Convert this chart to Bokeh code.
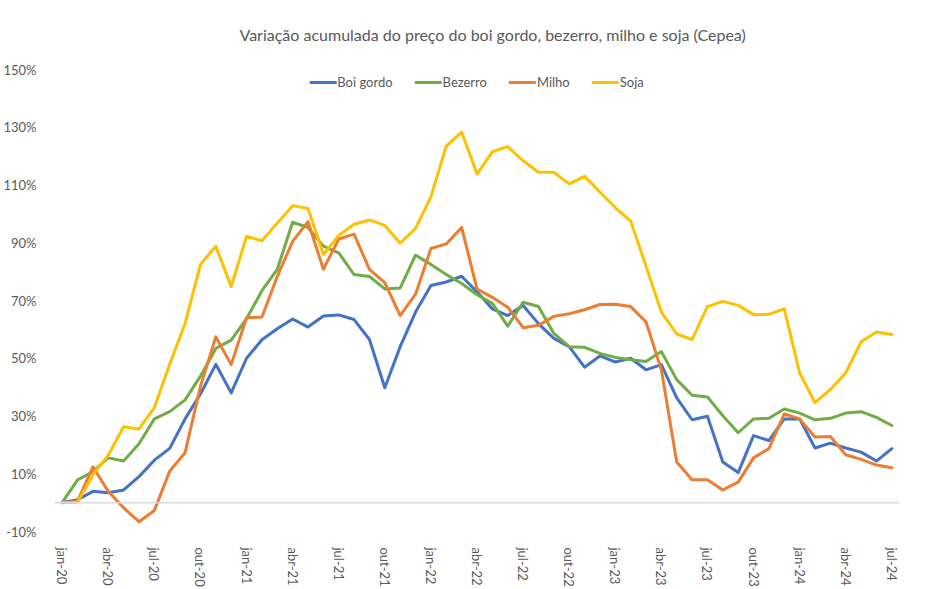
from bokeh.plotting import figure
from bokeh.models import (ColumnDataSource, Range1d, FixedTicker, Span, Legend,
                          LegendItem)
from bokeh.embed import file_html
from bokeh.resources import INLINE

# Months jan-20 .. jul-24
months_pt = ["jan", "fev", "mar", "abr", "mai", "jun",
             "jul", "ago", "set", "out", "nov", "dez"]
month_labels = []
for yr in range(20, 25):
    for m in months_pt:
        month_labels.append(f"{m}-{yr}")
month_labels = month_labels[:55]

# Accumulated price change since jan-20 (%)
boi_gordo = [0, 1, 3.9, 3.4, 4.4, 9, 14.7, 18.8, 29, 37.6,
             47.9, 38, 50, 56.4, 60.2, 63.6, 60.8, 64.6, 65, 63.4,
             56.5, 39.8, 54, 66, 75.2, 76.4, 78.4, 73, 67.1, 64.8,
             68.3, 62, 56.9, 54, 46.9, 50.8, 48.7, 50, 46, 47.8,
             36.3, 28.7, 29.9, 14.1, 10.4, 23.2, 21.5, 29, 29, 18.9,
             20.6, 18.9, 17.5, 14.4, 18.7]
bezerro = [0, 7.9, 10.7, 15.5, 14.4, 20.4, 29, 31.5, 35.6, 43.8,
           53.4, 56.3, 63.7, 73.4, 80.8, 97.1, 95.3, 88.8, 86.5, 79,
           78.3, 74, 74.3, 85.7, 82.5, 79, 75.9, 72, 69, 61.1,
           69.4, 67.9, 58.6, 54, 53.8, 51.7, 50.3, 49.5, 48.9, 52.3,
           42.6, 37.2, 36.6, 30.1, 24.2, 29, 29.2, 32.4, 31, 28.7,
           29.2, 31, 31.5, 29.5, 26.7]
milho = [0, 0.5, 12.4, 3.9, -1.8, -6.6, -2.7, 10.9, 17.3, 40.3,
         57.4, 47.8, 64, 64.3, 78.3, 90.5, 97.3, 80.8, 91.3, 93,
         80.8, 76.2, 64.8, 72.2, 88, 89.6, 95.3, 74, 71.1, 67.7,
         60.6, 61.4, 64.5, 65.4, 66.8, 68.6, 68.7, 67.9, 62.6, 46,
         14.1, 7.9, 7.9, 4.4, 7.1, 15.5, 18.7, 30.7, 29, 22.7,
         22.9, 16.6, 15, 13, 12.1]
soja = [0, 0.1, 9.6, 16.4, 26.3, 25.5, 32.9, 48, 62, 82.5,
        88.8, 74.8, 92.2, 90.7, 96.8, 102.8, 101.9, 85.9, 92.5, 96.4,
        97.9, 96, 89.9, 95, 105.9, 123.5, 128.3, 113.8, 121.5, 123.3,
        118.4, 114.4, 114.4, 110.4, 113, 107.6, 102.2, 97.5, 81.9, 66,
        58.4, 56.5, 67.9, 69.7, 68.3, 65.1, 65.2, 67.1, 44.9, 34.6,
        39.2, 44.9, 55.7, 59.1, 58.2]

y_ticks = [-10, 10, 30, 50, 70, 90, 110, 130, 150]

series = [("Boi gordo", boi_gordo, "#4472C4"),
          ("Bezerro", bezerro, "#70AD47"),
          ("Milho", milho, "#ED7D31"),
          ("Soja", soja, "#FFC000")]

FONT = "Lato"
GRAY = "#595959"

idx = list(range(len(month_labels)))

p = figure(width=948, height=589, output_backend="svg", toolbar_location=None,
           x_range=Range1d(-0.5, len(idx) - 0.5), y_range=Range1d(-10, 150),
           min_border_left=50, min_border_right=49, min_border_top=69,
           min_border_bottom=52)

p.title.text = "Variação acumulada do preço do boi gordo, bezerro, milho e soja (Cepea)"
p.title.align = "left"
p.title.offset = 185
p.title.text_font = FONT
p.title.text_font_size = "16px"
p.title.text_font_style = "normal"
p.title.text_color = GRAY
p.title.vertical_align = "top"
p.title.standoff = 47

p.outline_line_color = None
p.xgrid.visible = False
p.ygrid.visible = False
p.background_fill_color = "white"
p.border_fill_color = "white"

# zero baseline
p.add_layout(Span(location=0, dimension="width", line_color="#D9D9D9",
                  line_width=1.5))

items = []
for name, vals, color in series:
    src = ColumnDataSource(dict(x=idx, y=vals))
    r = p.line("x", "y", source=src, line_color=color, line_width=3,
               line_join="round", line_cap="round")
    items.append(LegendItem(label=name, renderers=[r]))

legend = Legend(items=items, location="top_center", orientation="horizontal",
                border_line_color=None, background_fill_alpha=0,
                label_text_font=FONT, label_text_font_size="13px",
                label_text_color=GRAY, glyph_width=27, glyph_height=16,
                label_standoff=1, spacing=22, padding=0, margin=5)
p.add_layout(legend)

# x axis: every third month, rotated labels
p.xaxis.ticker = FixedTicker(ticks=list(range(0, len(idx), 3)))
p.xaxis.major_label_overrides = {i: month_labels[i] for i in range(0, len(idx), 3)}
p.xaxis.major_label_orientation = "vertical"
p.xaxis.axis_line_color = None
p.xaxis.major_tick_line_color = None
p.xaxis.minor_tick_line_color = None
p.xaxis.major_label_text_font = FONT
p.xaxis.major_label_text_font_size = "13px"
p.xaxis.major_label_text_color = GRAY
p.xaxis.major_label_standoff = 10

# y axis in percent
p.yaxis.ticker = FixedTicker(ticks=y_ticks)
p.yaxis.major_label_overrides = {v: f"{v}%" for v in y_ticks}
p.yaxis.axis_line_color = None
p.yaxis.major_tick_line_color = None
p.yaxis.minor_tick_line_color = None
p.yaxis.major_label_text_font = FONT
p.yaxis.major_label_text_font_size = "13px"
p.yaxis.major_label_text_color = GRAY
p.yaxis.major_label_standoff = 12

open("out.html", "w").write(file_html(p, INLINE))
